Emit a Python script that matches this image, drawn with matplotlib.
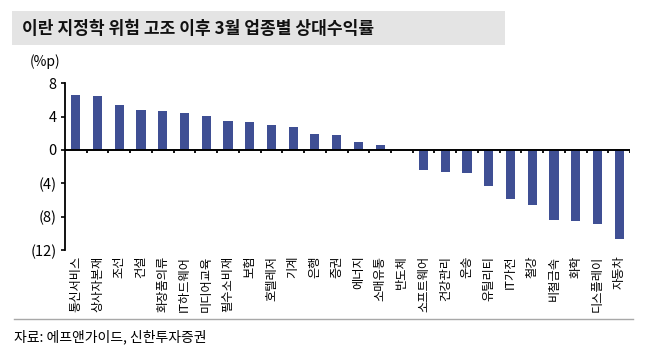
import matplotlib
matplotlib.use("Agg")
import matplotlib.pyplot as plt
from matplotlib.patches import Rectangle
from matplotlib.lines import Line2D
import numpy as np

plt.rcParams['font.family'] = ['Noto Sans CJK KR', 'DejaVu Sans']

categories = ["통신서비스", "상사자본재", "조선", "건설", "화장품의류", "IT하드웨어", "미디어교육",
              "필수소비재", "보험", "호텔레저", "기계", "은행", "증권", "에너지", "소매유통", "반도체",
              "소프트웨어", "건강관리", "운송", "유틸리티", "IT가전", "철강", "비철금속", "화학",
              "디스플레이", "자동차"]
values = [6.58, 6.46, 5.37, 4.85, 4.73, 4.44, 4.12, 3.47, 3.35, 3.03, 2.74, 1.94, 1.77, 0.97,
          0.56, 0.03, -2.42, -2.63, -2.79, -4.33, -5.86, -6.59, -8.37, -8.53, -8.93, -10.67]
yticks = [8, 4, 0, -4, -8, -12]
ytick_labels = ["8", "4", "0", "(4)", "(8)", "(12)"]
title = "이란 지정학 위험 고조 이후 3월 업종별 상대수익률"
unit = "(%p)"
source = "자료: 에프앤가이드, 신한투자증권"

W, H = 658, 353
fig = plt.figure(figsize=(W / 100, H / 100), dpi=100)

# title band
fig.patches.append(Rectangle((12 / W, 1 - 45 / H), (505 - 12) / W, 34 / H,
                             transform=fig.transFigure, facecolor="#e4e4e4", edgecolor="none", zorder=0))
fig.text(22 / W, 1 - 28.5 / H, title, fontsize=12.3, fontweight="bold", va="center", ha="left", color="#111111")

ax = fig.add_axes([65 / W, 1 - 250 / H, (630 - 65) / W, (250 - 83.3) / H])
x = np.arange(len(categories))
ax.bar(x, values, width=0.42, color="#3f4f94", zorder=3)
ax.set_xlim(-0.5, len(categories) - 0.5)
ax.set_ylim(-12, 8)
ax.set_yticks(yticks)
ax.set_yticklabels(ytick_labels, fontsize=10.5)
ax.tick_params(axis="y", direction="out", length=3, width=1.2, pad=3)
ax.set_xticks(x)
ax.set_xticklabels(categories, rotation=90, fontsize=8.8, va="top", ha="center")
ax.tick_params(axis="x", length=0, pad=4)
for s in ["top", "right", "bottom"]:
    ax.spines[s].set_visible(False)
ax.spines["left"].set_linewidth(1.3)
ax.axhline(0, color="black", lw=1.4, zorder=4)
bounds = np.arange(len(categories) + 1) - 0.5
ax.vlines(bounds[1:], -0.35, 0, color="black", lw=1.3, zorder=4)

fig.text(45 / W, 1 - 62 / H, unit, fontsize=10, ha="center", va="center")

fig.lines.append(Line2D([14 / W, 633 / W], [1 - 319 / H, 1 - 319 / H], transform=fig.transFigure,
                        color="#a8a8a8", lw=1))
fig.text(14 / W, 1 - 337 / H, source, fontsize=10, ha="left", va="center")

fig.savefig("out.png", dpi=100)
